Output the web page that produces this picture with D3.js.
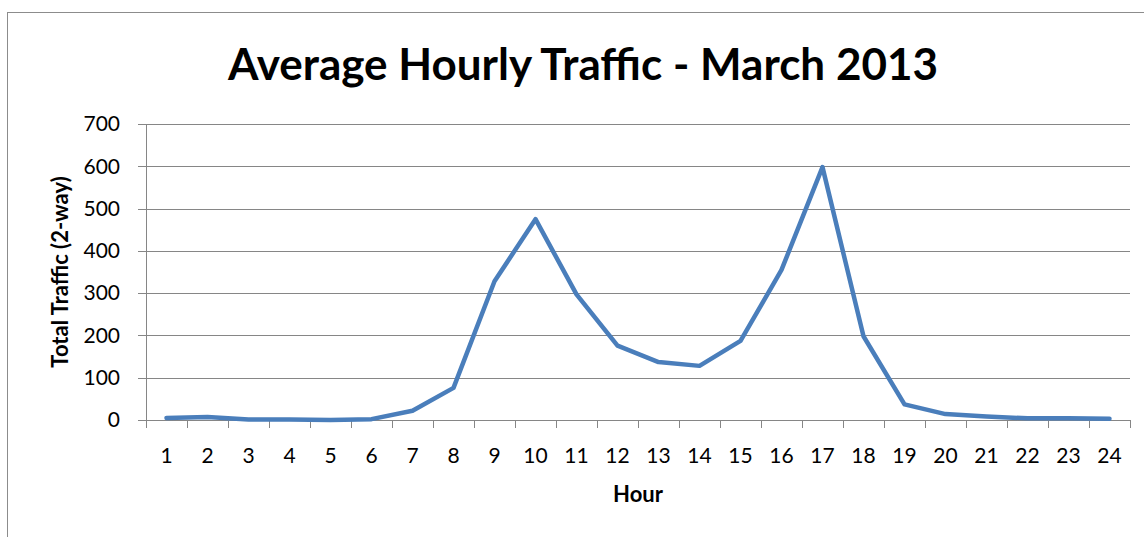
<!DOCTYPE html>
<html>
<head>
<meta charset="utf-8">
<script src="https://cdn.jsdelivr.net/npm/d3@7"></script>
<style>
  body { margin: 0; background: #fff; }
  svg { display: block; font-family: Lato, "Open Sans", sans-serif; }
</style>
</head>
<body>
<svg id="chart" width="1144" height="537"></svg>
<script>
// hours on the x axis, 2-way traffic counts per hour
const hours = d3.range(1, 25).map(String);
const traffic = [5, 7, 1, 1, 0, 2, 22, 76, 328, 475, 297, 176, 137, 128, 187, 355, 598, 198, 37, 14, 8, 4, 4, 3];
const yTicks = [0, 100, 200, 300, 400, 500, 600, 700];

const svg = d3.select('#chart');
const margin = { top: 124, right: 14, bottom: 117, left: 146 };
const width = 1144 - margin.left - margin.right;
const height = 537 - margin.top - margin.bottom;

// outer chart frame
svg.append('rect')
  .attr('x', 7.5).attr('y', 12.5)
  .attr('width', 1150).attr('height', 540)
  .attr('fill', 'none')
  .attr('stroke', '#8c8c8c')
  .attr('stroke-width', 1);

svg.append('text')
  .attr('x', 583).attr('y', 80)
  .attr('text-anchor', 'middle')
  .attr('font-size', 44)
  .attr('font-weight', 'bold')
  .text('Average Hourly Traffic - March 2013');

const g = svg.append('g')
  .attr('transform', `translate(${margin.left}, ${margin.top})`);

const x = d3.scaleBand().domain(hours).range([0, width]);
const y = d3.scaleLinear().domain([0, 700]).range([height, 0]);

// gridlines
g.append('g')
  .selectAll('line')
  .data(yTicks)
  .enter().append('line')
  .attr('x1', -8).attr('x2', width)
  .attr('y1', d => Math.round(y(d)) + 0.5)
  .attr('y2', d => Math.round(y(d)) + 0.5)
  .attr('stroke', '#868686')
  .attr('stroke-width', 1);

// y axis
const yAxis = g.append('g')
  .call(d3.axisLeft(y).tickValues(yTicks).tickSize(0).tickPadding(26));
yAxis.select('.domain').attr('stroke', '#868686');
yAxis.selectAll('text').attr('font-size', 21).attr('fill', '#000').attr('font-family', 'Lato');

// x axis with ticks at band edges
const xAxis = g.append('g')
  .attr('transform', `translate(0, ${height})`);
xAxis.append('line')
  .attr('x1', 0).attr('x2', width)
  .attr('y1', 0.5).attr('y2', 0.5)
  .attr('stroke', '#868686');
xAxis.selectAll('.tk')
  .data(hours.concat(['end']))
  .enter().append('line')
  .attr('class', 'tk')
  .attr('x1', (d, i) => Math.round(i * x.bandwidth()) + 0.5)
  .attr('x2', (d, i) => Math.round(i * x.bandwidth()) + 0.5)
  .attr('y1', 0).attr('y2', 8)
  .attr('stroke', '#868686');
xAxis.selectAll('.lbl')
  .data(hours)
  .enter().append('text')
  .attr('class', 'lbl')
  .attr('x', d => x(d) + x.bandwidth() / 2)
  .attr('y', 43)
  .attr('text-anchor', 'middle')
  .attr('font-size', 21)
  .text(d => d);

// the line
const line = d3.line()
  .x((d, i) => x(hours[i]) + x.bandwidth() / 2)
  .y(d => y(d));

g.append('path')
  .datum(traffic)
  .attr('fill', 'none')
  .attr('stroke', '#4a7ebb')
  .attr('stroke-width', 4.5)
  .attr('stroke-linejoin', 'round')
  .attr('stroke-linecap', 'round')
  .attr('d', line);

// axis titles
svg.append('text')
  .attr('x', 638).attr('y', 502)
  .attr('text-anchor', 'middle')
  .attr('font-size', 22)
  .attr('font-weight', 'bold')
  .text('Hour');

svg.append('text')
  .attr('transform', 'translate(68, 272) rotate(-90)')
  .attr('text-anchor', 'middle')
  .attr('font-size', 22)
  .attr('font-weight', 'bold')
  .text('Total Traffic (2-way)');
</script>
</body>
</html>
